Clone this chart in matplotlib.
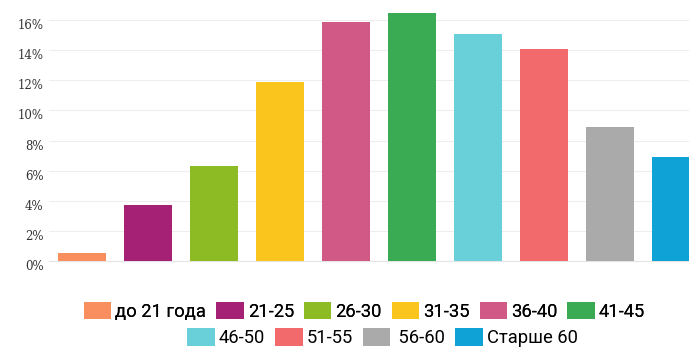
import matplotlib.pyplot as plt
import matplotlib.transforms as mtransforms
from matplotlib.patches import Patch

categories = ["до 21 года", "21-25", "26-30", "31-35", "36-40",
              "41-45", "46-50", "51-55", " 56-60", "Старше 60"]
values = [0.5, 3.7, 6.3, 11.9, 15.9, 16.5, 15.1, 14.1, 8.9, 6.9]
colors = ["#F98E5E", "#A52175", "#8DBB23", "#FAC51C", "#D05A85",
          "#3AAA53", "#69D0DA", "#F36A6D", "#AAAAAA", "#0EA2D6"]
yticks = [0, 2, 4, 6, 8, 10, 12, 14, 16]

fig = plt.figure(figsize=(6.89, 3.48), dpi=100)
ax = fig.add_axes([0.0711, 0.25, 0.958, 0.7357])

x = range(len(categories))
ax.bar(x, values, width=0.74, color=colors, zorder=3)
ax.set_xlim(-0.5, len(categories) - 0.5)
ax.set_ylim(0, 17)

ax.set_yticks(yticks)
ax.set_yticklabels([f"{v}%" for v in yticks], family="DejaVu Serif",
                   fontsize=8.5, color="#333333")
ax.set_xticks([])
ax.tick_params(axis="y", length=0, pad=4)
offset = mtransforms.ScaledTranslation(0, -4 / 100, fig.dpi_scale_trans)
for lbl in ax.get_yticklabels():
    lbl.set_transform(lbl.get_transform() + offset)

ax.grid(axis="y", color="#eeeeee", linewidth=0.8, zorder=0)
for s in ["top", "right", "left"]:
    ax.spines[s].set_visible(False)
ax.spines["bottom"].set_color("#e4e4e4")

handles = [Patch(facecolor=c, label=l) for c, l in zip(colors, categories)]
legend_kw = dict(frameon=False, prop={"family": "Roboto", "size": 13.2},
                 handlelength=1.5, handleheight=1.13, handletextpad=0.22,
                 columnspacing=0.54, borderaxespad=0, borderpad=0)
leg1 = fig.legend(handles=handles[:6], ncol=6, loc="center",
                  bbox_to_anchor=(0.529, 0.106), **legend_kw)
fig.add_artist(leg1)
fig.legend(handles=handles[6:], ncol=4, loc="center",
           bbox_to_anchor=(0.555, 0.030), **legend_kw)

fig.savefig("out.png", dpi=100)
